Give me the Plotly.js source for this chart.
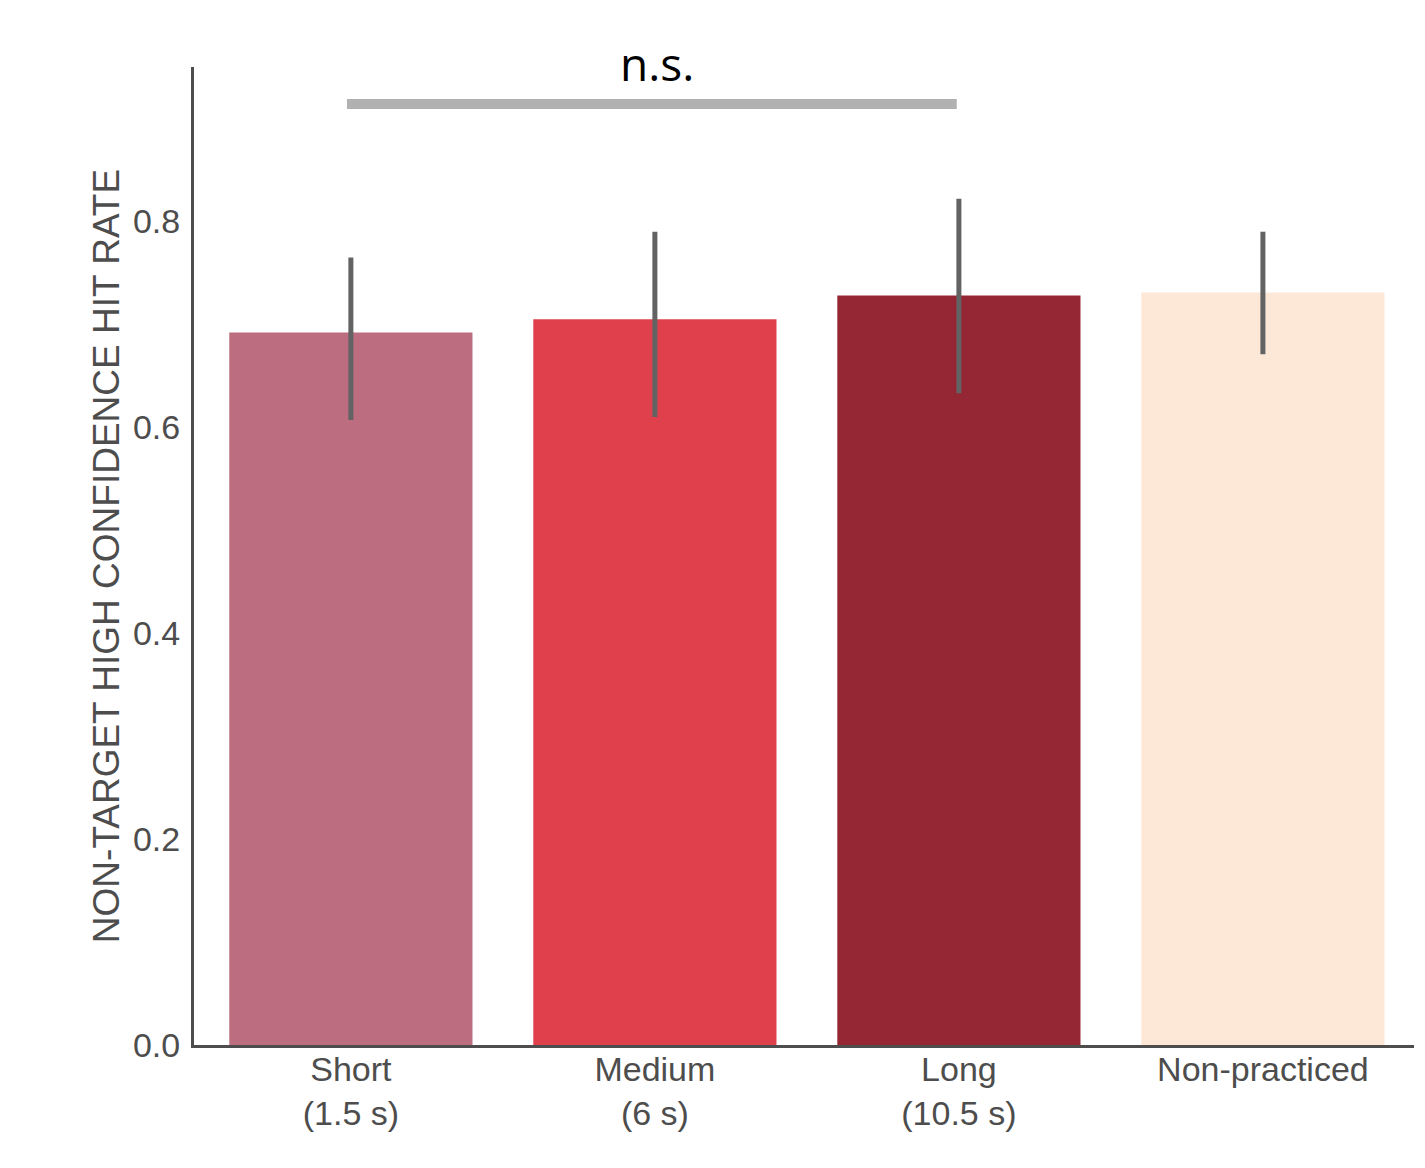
<!DOCTYPE html>
<html>
<head>
<meta charset="utf-8">
<script src="https://cdn.plot.ly/plotly-3.0.1.min.js"></script>
<style>html,body{margin:0;padding:0;background:#fff;}#chart{width:1425px;height:1168px;}</style>
</head>
<body>
<div id="chart"></div>
<script>
const categories = ["Short<br>(1.5 s)", "Medium<br>(6 s)", "Long<br>(10.5 s)", "Non-practiced"];
const hitRate = [0.692, 0.705, 0.728, 0.731];
const ciUpper = [0.765, 0.790, 0.822, 0.790];
const ciLower = [0.607, 0.610, 0.633, 0.671];
const barColors = ["#bc6e80", "#e0404c", "#952634", "#fde7d6"];
const sigPair = [0, 2];
const sigLevel = 0.914;
const sigLabel = "n.s.";

const xs = categories.map((_, i) => i);
const trace = {
  type: "bar",
  x: xs,
  y: hitRate,
  width: 0.8,
  marker: {color: barColors, line: {width: 0}},
  error_y: {
    type: "data", symmetric: false,
    array: hitRate.map((v, i) => ciUpper[i] - v),
    arrayminus: hitRate.map((v, i) => v - ciLower[i]),
    color: "#636363", thickness: 5, width: 0
  },
  hoverinfo: "none"
};

const axisFont = {family: "Liberation Sans, Arial, sans-serif", size: 34, color: "#4d4d4d"};
const layout = {
  width: 1425, height: 1168,
  margin: {l: 194, r: 11, t: 67, b: 123},
  paper_bgcolor: "#fff", plot_bgcolor: "#fff",
  showlegend: false,
  xaxis: {
    range: [-0.516, 3.497],
    tickvals: xs, ticktext: categories,
    tickfont: axisFont,
    showgrid: false, zeroline: false,
    showline: true, linecolor: "#4d4d4d", linewidth: 3,
    ticks: "", ticklen: 0, ticklabelstandoff: -8
  },
  yaxis: {
    range: [0, 0.95],
    tickvals: [0, 0.2, 0.4, 0.6, 0.8],
    ticktext: ["0.0", "0.2", "0.4", "0.6", "0.8"],
    tickfont: axisFont,
    showgrid: false, zeroline: false,
    showline: true, linecolor: "#4d4d4d", linewidth: 3,
    ticks: "outside", ticklen: 4, tickcolor: "rgba(0,0,0,0)",
    title: {text: "NON-TARGET HIGH CONFIDENCE HIT RATE", font: {family: "Liberation Sans, Arial, sans-serif", size: 37, color: "#4d4d4d"}, standoff: 2}
  },
  shapes: [{
    type: "line", xref: "x", yref: "y",
    x0: sigPair[0] - 0.013, x1: sigPair[1] - 0.007, y0: sigLevel, y1: sigLevel,
    line: {color: "#b0b1b0", width: 10}
  }],
  annotations: [{
    xref: "x", yref: "y", x: (sigPair[0] + sigPair[1]) / 2 + 0.007, y: sigLevel,
    yanchor: "bottom", yshift: 8,
    text: sigLabel, showarrow: false,
    font: {family: "Open Sans, sans-serif", size: 46, color: "#000"}
  }]
};
Plotly.newPlot("chart", [trace], layout, {displayModeBar: false, staticPlot: true});
</script>
</body>
</html>
